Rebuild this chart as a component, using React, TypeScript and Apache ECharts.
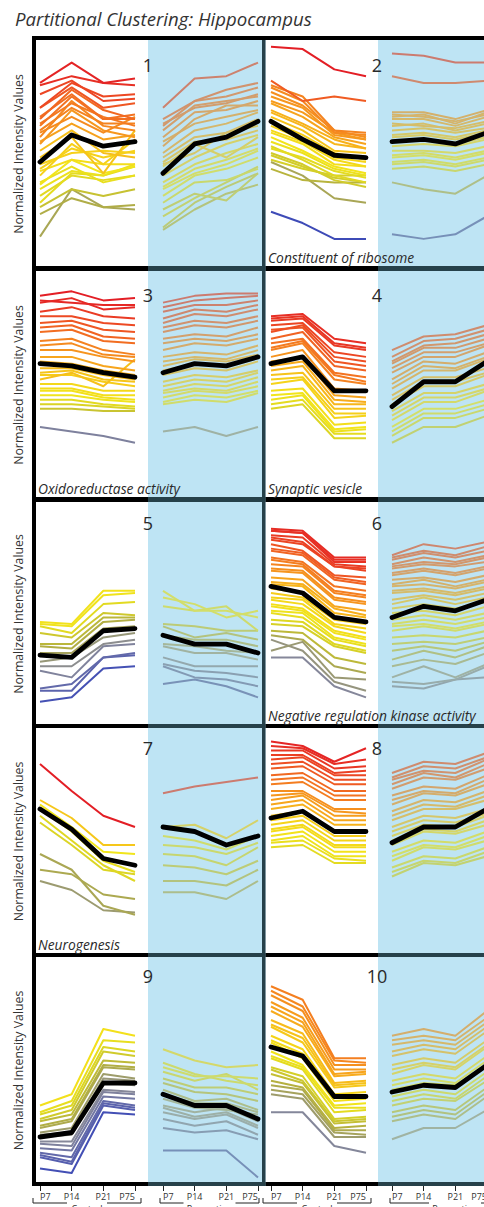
import React, { useEffect, useRef } from "react";
import * as echarts from "echarts";

// ---------------- DATA ----------------
const TITLE = "Partitional Clustering: Hippocampus";
const Y_LABEL = "Normalized Intensity Values";
const TIMEPOINTS = ["P7", "P14", "P21", "P75"];
const GROUPS = ["Control", "Paroxetine"];
const CLUSTER_IDS = ["1", "2", "3", "4", "5", "6", "7", "8", "9", "10"];
const ANNOTATIONS = [
  "",
  "Constituent of ribosome",
  "Oxidoreductase activity",
  "Synaptic vesicle",
  "",
  "Negative regulation kinase activity",
  "Neurogenesis",
  "",
  "",
  "",
];

// Each row: values at P7, P14, P21, P75 (normalized, 0..100 of panel height)
const C1_CONTROL = [
  [81, 90, 81, 83], [80, 84, 81, 80], [76, 82, 73, 74], [70, 81, 75, 76], [70, 79, 70, 72],
  [65, 78, 69, 65], [66, 76, 65, 65], [62, 75, 65, 67], [63, 72, 66, 62], [60, 70, 63, 63],
  [57, 73, 62, 60], [59, 66, 59, 66], [54, 69, 60, 57], [55, 63, 56, 58], [51, 60, 50, 48],
  [48, 57, 41, 60], [45, 50, 51, 50], [43, 52, 48, 51], [40, 54, 45, 56], [42, 47, 45, 45],
  [37, 44, 37, 40], [36, 47, 41, 44], [34, 42, 40, 45], [31, 40, 38, 40], [28, 41, 40, 44],
  [26, 34, 31, 34], [23, 30, 26, 27], [13, 34, 26, 25],
];
const C1_PAROX = [
  [70, 83, 84, 90], [65, 73, 78, 81], [63, 70, 72, 76], [62, 73, 75, 79], [60, 71, 73, 75],
  [57, 68, 69, 73], [55, 63, 66, 69], [53, 65, 71, 71], [50, 60, 63, 68], [48, 57, 59, 65],
  [46, 55, 56, 60], [45, 50, 59, 62], [44, 54, 48, 57], [40, 48, 54, 58], [37, 45, 50, 54],
  [35, 43, 47, 52], [34, 41, 45, 51], [31, 40, 43, 48], [28, 37, 38, 43], [25, 32, 29, 41],
  [22, 30, 37, 44], [17, 28, 35, 41], [16, 25, 32, 36],
];
const C1_MEAN = [46, 58, 53, 55, 41, 54, 57, 64];

const C2_CONTROL = [
  [97, 96, 87, 84], [82, 73, 75, 73], [80, 75, 60, 59], [79, 73, 59, 58], [77, 71, 60, 57],
  [75, 70, 58, 56], [73, 68, 59, 56], [72, 66, 57, 54], [69, 63, 56, 52], [68, 62, 54, 52],
  [66, 60, 51, 50], [64, 58, 50, 47], [62, 56, 48, 46], [60, 55, 47, 44], [59, 54, 45, 44],
  [57, 51, 44, 41], [55, 50, 43, 40], [53, 47, 40, 37], [52, 48, 42, 39], [50, 45, 38, 35],
  [49, 44, 39, 37], [47, 43, 40, 40], [46, 40, 30, 28], [43, 38, 37, 37], [24, 19, 12, 12],
];
const C2_PAROX = [
  [94, 93, 90, 90], [84, 81, 81, 82], [68, 68, 65, 69], [67, 66, 64, 67], [66, 67, 63, 68],
  [65, 65, 62, 66], [63, 62, 61, 64], [62, 63, 60, 63], [60, 61, 59, 61], [58, 59, 57, 60],
  [57, 58, 56, 59], [55, 56, 54, 57], [53, 54, 53, 56], [51, 51, 50, 53], [49, 50, 48, 51],
  [48, 49, 47, 50], [46, 47, 45, 48], [45, 46, 44, 47], [43, 44, 42, 45], [37, 34, 32, 40],
  [14, 12, 14, 22],
];
const C2_MEAN = [64, 56, 49, 48, 55, 56, 54, 59];

const C3_CONTROL = [
  [89, 91, 87, 88], [87, 86, 85, 85], [86, 88, 83, 84], [82, 84, 80, 79], [80, 80, 77, 76],
  [77, 78, 74, 73], [75, 76, 71, 70], [73, 74, 69, 68], [69, 70, 65, 63], [67, 68, 63, 62],
  [65, 65, 62, 60], [62, 62, 58, 56], [60, 59, 56, 54], [57, 57, 54, 52], [55, 56, 52, 51],
  [54, 54, 51, 49], [52, 55, 49, 61], [50, 50, 47, 47], [48, 48, 45, 45], [47, 47, 44, 43],
  [45, 45, 43, 42], [43, 43, 41, 40], [41, 41, 40, 39], [39, 39, 38, 38], [31, 29, 27, 24],
];
const C3_PAROX = [
  [86, 89, 90, 90], [84, 87, 88, 89], [82, 85, 85, 87], [79, 83, 82, 85], [77, 81, 80, 83],
  [75, 78, 77, 80], [73, 76, 75, 78], [70, 72, 71, 75], [68, 70, 69, 72], [65, 68, 67, 70],
  [62, 64, 63, 67], [60, 62, 61, 65], [58, 61, 60, 63], [56, 59, 58, 62], [54, 57, 56, 60],
  [51, 54, 53, 56], [49, 52, 51, 55], [47, 50, 49, 53], [46, 48, 47, 51], [44, 47, 46, 49],
  [42, 45, 44, 47], [41, 43, 42, 46], [29, 31, 27, 31],
];
const C3_MEAN = [59, 58, 55, 53, 55, 59, 58, 62];

const C4_CONTROL = [
  [80, 81, 70, 68], [79, 80, 68, 66], [78, 79, 67, 65], [76, 77, 64, 62], [74, 75, 60, 58],
  [73, 76, 62, 60], [70, 73, 58, 56], [68, 70, 55, 53], [66, 69, 54, 51], [65, 68, 52, 50],
  [62, 65, 48, 47], [60, 62, 45, 44], [58, 60, 43, 42], [56, 58, 41, 41], [54, 55, 39, 39],
  [52, 53, 37, 37], [50, 52, 35, 36], [47, 48, 32, 33], [45, 46, 30, 31], [43, 45, 29, 30],
  [41, 43, 28, 28], [39, 41, 26, 26],
];
const C4_PAROX = [
  [65, 71, 72, 76], [62, 69, 70, 74], [60, 67, 68, 72], [59, 66, 66, 70], [57, 64, 64, 68],
  [55, 62, 62, 67], [52, 60, 59, 64], [50, 58, 57, 62], [48, 56, 56, 61], [45, 53, 53, 57],
  [43, 51, 51, 55], [41, 49, 49, 54], [38, 46, 46, 50], [36, 44, 44, 48], [34, 42, 42, 47],
  [31, 39, 39, 43], [29, 37, 37, 41], [27, 35, 35, 39], [24, 31, 31, 36],
];
const C4_MEAN = [59, 62, 47, 47, 40, 51, 51, 60];

const C5_CONTROL = [
  [46, 45, 60, 60], [45, 44, 58, 59], [44, 41, 54, 55], [41, 39, 50, 49],
  [36, 36, 48, 48], [35, 34, 46, 47], [32, 32, 43, 44], [28, 30, 39, 41],
  [26, 26, 36, 38], [24, 21, 35, 36], [16, 18, 30, 32], [15, 15, 30, 31],
  [10, 12, 25, 26],
];
const C5_PAROX = [
  [60, 51, 51, 48], [57, 54, 48, 51], [53, 51, 53, 42], [45, 44, 42, 42],
  [44, 39, 41, 38], [40, 38, 38, 35], [36, 35, 33, 32], [35, 32, 32, 29],
  [30, 26, 26, 26], [27, 24, 23, 21], [26, 21, 20, 17], [18, 20, 17, 12],
];
const C5_MEAN = [31, 30, 42, 43, 40, 36, 36, 32];

const C6_CONTROL = [
  [88, 87, 75, 75], [87, 86, 74, 74], [87, 86, 73, 73], [85, 84, 72, 71], [84, 82, 71, 70],
  [83, 81, 71, 69], [81, 78, 67, 66], [79, 77, 66, 64], [78, 76, 65, 63], [75, 73, 62, 60],
  [74, 72, 60, 58], [72, 71, 59, 57], [70, 69, 57, 55], [69, 68, 56, 54], [66, 65, 53, 51],
  [64, 63, 52, 49], [63, 62, 50, 48], [61, 59, 48, 46], [59, 57, 47, 45], [57, 56, 45, 43],
  [56, 54, 44, 41], [54, 52, 42, 39], [53, 51, 41, 38], [51, 50, 39, 36], [50, 48, 38, 35],
  [47, 46, 36, 33], [45, 44, 35, 32], [42, 41, 30, 27], [40, 38, 26, 23], [38, 33, 19, 15],
  [33, 37, 21, 20], [30, 30, 17, 12],
];
const C6_PAROX = [
  [76, 81, 79, 82], [75, 78, 76, 80], [74, 77, 75, 78], [72, 75, 73, 76], [71, 73, 72, 75],
  [70, 72, 71, 73], [68, 70, 68, 71], [67, 69, 67, 70], [65, 66, 64, 67], [63, 65, 62, 65],
  [62, 63, 61, 64], [60, 61, 59, 62], [59, 60, 58, 61], [56, 58, 56, 59], [54, 57, 54, 57],
  [52, 54, 52, 55], [50, 51, 49, 53], [47, 49, 47, 50], [45, 47, 45, 48], [44, 45, 43, 46],
  [42, 44, 42, 45], [39, 40, 39, 42], [36, 37, 36, 39], [33, 35, 33, 37], [29, 33, 30, 35],
  [26, 29, 27, 32], [21, 26, 21, 27], [19, 18, 20, 26], [17, 16, 20, 21],
];
const C6_MEAN = [62, 59, 48, 46, 48, 53, 51, 56];

const C7_CONTROL = [
  [84, 72, 61, 56], [68, 60, 48, 48], [66, 56, 45, 44], [64, 54, 41, 36],
  [61, 50, 39, 32], [58, 48, 37, 35], [44, 37, 21, 17], [37, 35, 26, 24],
  [32, 28, 19, 18],
];
const C7_PAROX = [
  [71, 74, 76, 78], [56, 57, 51, 59], [52, 50, 46, 52], [48, 47, 44, 49],
  [44, 43, 39, 47], [39, 38, 35, 41], [32, 32, 30, 37], [27, 27, 24, 32],
];
const C7_MEAN = [64, 55, 42, 39, 56, 54, 48, 52];

const C8_CONTROL = [
  [94, 92, 85, 91], [92, 91, 84, 86], [90, 90, 82, 83], [88, 88, 80, 81], [86, 87, 79, 79],
  [84, 85, 77, 77], [82, 83, 75, 75], [79, 80, 72, 72], [77, 78, 70, 70], [75, 76, 68, 68],
  [72, 72, 64, 64], [70, 71, 63, 62], [68, 70, 61, 61], [66, 68, 59, 59], [64, 66, 57, 57],
  [61, 63, 54, 54], [59, 61, 52, 52], [57, 59, 50, 50], [55, 57, 48, 48], [54, 56, 47, 47],
  [52, 54, 45, 45], [50, 52, 43, 43], [49, 50, 42, 41], [47, 48, 40, 40],
];
const C8_PAROX = [
  [80, 85, 84, 89], [78, 83, 82, 87], [77, 81, 80, 86], [75, 80, 78, 84], [73, 78, 77, 82],
  [70, 74, 73, 79], [68, 72, 71, 77], [66, 71, 70, 75], [63, 68, 67, 72], [61, 66, 65, 70],
  [59, 64, 64, 68], [56, 61, 60, 64], [54, 59, 58, 62], [52, 57, 56, 61], [50, 55, 54, 59],
  [48, 54, 53, 57], [45, 50, 49, 54], [43, 48, 47, 52], [41, 47, 46, 50], [38, 43, 42, 47],
  [36, 41, 40, 45], [34, 40, 39, 43],
];
const C8_MEAN = [60, 63, 54, 54, 49, 56, 56, 64];

const C9_CONTROL = [
  [34, 39, 68, 65], [31, 36, 63, 62], [30, 34, 60, 58], [28, 32, 58, 56], [27, 30, 54, 53],
  [25, 28, 52, 51], [24, 27, 51, 50], [22, 24, 48, 46], [21, 22, 46, 45], [20, 21, 44, 43],
  [18, 18, 41, 40], [17, 16, 40, 39], [15, 14, 38, 37], [13, 11, 36, 34], [12, 9, 35, 33],
  [11, 8, 34, 32], [6, 4, 31, 30],
];
const C9_PAROX = [
  [59, 54, 51, 52], [53, 48, 45, 43], [51, 47, 47, 46], [49, 45, 48, 41], [46, 42, 42, 39],
  [44, 40, 39, 36], [41, 36, 37, 32], [39, 35, 35, 31], [37, 33, 32, 30], [34, 31, 33, 27],
  [33, 29, 31, 25], [31, 28, 30, 24], [28, 25, 27, 21], [24, 22, 23, 19], [14, 14, 14, 2],
];
const C9_MEAN = [20, 22, 44, 44, 39, 34, 34, 28];

const C10_CONTROL = [
  [87, 81, 55, 55], [85, 78, 54, 53], [83, 76, 52, 52], [80, 73, 50, 50], [78, 71, 48, 49],
  [76, 69, 47, 48], [72, 66, 44, 45], [70, 64, 43, 44], [69, 62, 42, 43], [65, 59, 39, 40],
  [63, 57, 38, 38], [62, 55, 36, 37], [58, 52, 34, 35], [56, 51, 33, 33], [55, 50, 31, 32],
  [51, 47, 28, 29], [50, 45, 27, 28], [48, 44, 26, 27], [45, 42, 24, 25], [43, 41, 23, 23],
  [41, 39, 22, 21], [39, 37, 20, 20], [31, 31, 16, 13],
];
const C10_PAROX = [
  [65, 68, 65, 76], [63, 65, 63, 73], [61, 63, 61, 71], [58, 61, 59, 69], [56, 59, 57, 67],
  [52, 55, 53, 63], [50, 53, 51, 61], [48, 52, 50, 60], [45, 48, 46, 56], [43, 46, 44, 54],
  [41, 44, 43, 52], [38, 41, 39, 49], [36, 39, 37, 47], [34, 37, 36, 45], [31, 34, 32, 42],
  [29, 32, 30, 40], [27, 30, 28, 38], [19, 24, 24, 32],
];
const C10_MEAN = [60, 56, 38, 38, 40, 43, 42, 52];

// ---------------- STYLE / LAYOUT ----------------
const FONT = "'Open Sans', 'Noto Sans', sans-serif";
const BLUE = "#bee4f4";
const MUTE = "#b4d8b8";
const TEAL = "#26414a";
const ROW_TOP = [40, 271, 502, 728, 957];
const ROW_BOTTOM = [266, 497, 724, 953, 1182];
const CONTROL_X = [40, 271];
const PAROX_X = [163, 392];
const HALF_W = 95;
const BLUE_X = [
  [148, 265.5],
  [378, 484],
];
const NUMBER_X = [148, 377];
const NUMBER_DY = [25, 24, 21, 20, 19];
// colour scale per cluster: value mapped to blue end, to yellow, and to red end
const COLOR_SCALE = [
  [-5, 42, 85], [16, 48, 88], [19, 44, 88], [0, 38, 78], [16, 52, 90],
  [8, 45, 84], [-10, 53, 68], [0, 48, 92], [16, 50, 90], [9, 45, 91],
];
const PALETTE: [number, string][] = [
  [0.0, "#3a48b8"],
  [0.1, "#5c64ad"],
  [0.2, "#85879a"],
  [0.28, "#9b9a72"],
  [0.36, "#b4b040"],
  [0.44, "#d9d325"],
  [0.52, "#f2e51b"],
  [0.6, "#f6cf19"],
  [0.68, "#f7a91c"],
  [0.78, "#f47d20"],
  [0.88, "#ee4e23"],
  [1.0, "#e31e25"],
];

const hexToRgb = (h: string) => [
  parseInt(h.slice(1, 3), 16),
  parseInt(h.slice(3, 5), 16),
  parseInt(h.slice(5, 7), 16),
];
const rgbStr = (c: number[]) =>
  `rgb(${Math.round(c[0])},${Math.round(c[1])},${Math.round(c[2])})`;
const paletteAt = (t: number): number[] => {
  const p = Math.max(0, Math.min(1, t));
  for (let i = 1; i < PALETTE.length; i++) {
    if (p <= PALETTE[i][0]) {
      const [p0, c0] = PALETTE[i - 1];
      const [p1, c1] = PALETTE[i];
      const f = (p - p0) / (p1 - p0);
      const a = hexToRgb(c0);
      const b = hexToRgb(c1);
      return [0, 1, 2].map((k) => a[k] + (b[k] - a[k]) * f);
    }
  }
  return hexToRgb(PALETTE[PALETTE.length - 1][1]);
};
const scaleColor = (v: number, [lo, mid, hi]: number[]) =>
  paletteAt(v <= mid ? ((v - lo) / (mid - lo)) * 0.52 : 0.52 + ((v - mid) / (hi - mid)) * 0.48);
const blend = (c: number[], target: string, a: number) => {
  const t = hexToRgb(target);
  return [0, 1, 2].map((k) => c[k] * (1 - a) + t[k] * a);
};
const avg = (v: number[]) => v.reduce((s, x) => s + x, 0) / v.length;

const CLUSTERS = [
  { control: C1_CONTROL, parox: C1_PAROX, mean: C1_MEAN },
  { control: C2_CONTROL, parox: C2_PAROX, mean: C2_MEAN },
  { control: C3_CONTROL, parox: C3_PAROX, mean: C3_MEAN },
  { control: C4_CONTROL, parox: C4_PAROX, mean: C4_MEAN },
  { control: C5_CONTROL, parox: C5_PAROX, mean: C5_MEAN },
  { control: C6_CONTROL, parox: C6_PAROX, mean: C6_MEAN },
  { control: C7_CONTROL, parox: C7_PAROX, mean: C7_MEAN },
  { control: C8_CONTROL, parox: C8_PAROX, mean: C8_MEAN },
  { control: C9_CONTROL, parox: C9_PAROX, mean: C9_MEAN },
  { control: C10_CONTROL, parox: C10_PAROX, mean: C10_MEAN },
];

const textStyle = (text: string, size: number, align: string, extra: any = {}) => ({
  text,
  fontSize: size,
  fontFamily: FONT,
  fill: "#2a2a2a",
  textAlign: align,
  textVerticalAlign: "middle",
  align,
  verticalAlign: "middle",
  ...extra,
});

function buildOption() {
  const grid: any[] = [];
  const xAxis: any[] = [];
  const yAxis: any[] = [];
  const series: any[] = [];
  const graphic: any[] = [];

  CLUSTERS.forEach((cl, k) => {
    const row = Math.floor(k / 2);
    const col = k % 2;
    const top = ROW_TOP[row];
    const height = ROW_BOTTOM[row] - top;
    const isBottom = row === ROW_TOP.length - 1;
    [CONTROL_X[col], PAROX_X[col]].forEach((left, h) => {
      const gi = k * 2 + h;
      grid.push({ left, top, width: HALF_W, height, containLabel: false, outerBoundsMode: "none" });
      xAxis.push({
        type: "category",
        gridIndex: gi,
        data: TIMEPOINTS,
        boundaryGap: false,
        show: isBottom,
        axisLine: { show: false },
        axisTick: { show: true, length: 9, lineStyle: { color: "#222", width: 1 } },
        axisLabel: {
          interval: 0,
          fontSize: 9,
          color: "#333",
          margin: 10,
          fontFamily: FONT,
          alignMinLabel: "left",
          alignMaxLabel: "right",
        },
        splitLine: { show: false },
      });
      yAxis.push({ type: "value", gridIndex: gi, min: 0, max: 100, show: false, splitLine: { show: false } });
    });

    const colorOf = (vals: number[]) => scaleColor(avg(vals), COLOR_SCALE[k]);
    const addLines = (rows: number[][], gi: number, muted: boolean) => {
      [...rows]
        .sort((a, b) => avg(a) - avg(b))
        .forEach((vals) => {
          const c = colorOf(vals);
          series.push({
            type: "line",
            xAxisIndex: gi,
            yAxisIndex: gi,
            data: vals,
            symbol: "none",
            silent: true,
            z: 2,
            lineStyle: { color: rgbStr(muted ? blend(c, MUTE, 0.5) : c), width: 2, join: "round" },
          });
        });
    };
    addLines(cl.control, k * 2, false);
    addLines(cl.parox, k * 2 + 1, true);
    [cl.mean.slice(0, 4), cl.mean.slice(4)].forEach((vals, h) => {
      series.push({
        type: "line",
        xAxisIndex: k * 2 + h,
        yAxisIndex: k * 2 + h,
        data: vals,
        symbol: "none",
        silent: true,
        z: 5,
        lineStyle: { color: "#000", width: 4.8, join: "round", cap: "round" },
      });
    });

    // cluster number
    graphic.push({
      type: "text",
      x: NUMBER_X[col],
      y: top + NUMBER_DY[row],
      z: 20,
      silent: true,
      style: textStyle(CLUSTER_IDS[k], 18, "center"),
    });
    if (ANNOTATIONS[k]) {
      graphic.push({
        type: "text",
        x: col === 0 ? 38 : 268,
        y: ROW_BOTTOM[row] - 9,
        z: 20,
        silent: true,
        style: textStyle(ANNOTATIONS[k], 13.8, "left", { fontStyle: "italic" }),
      });
    }
  });

  // blue paroxetine backgrounds
  BLUE_X.forEach(([x0, x1]) => {
    graphic.push({
      type: "rect",
      z: 0,
      silent: true,
      shape: { x: x0, y: 40, width: x1 - x0, height: 1186 - 40 },
      style: { fill: BLUE },
    });
  });

  // frame
  const bar = (x: number, y: number, w: number, h: number, fill: string) =>
    graphic.push({ type: "rect", z: 10, silent: true, shape: { x, y, width: w, height: h }, style: { fill } });
  bar(32, 36, 470, 4, "#000");
  bar(32, 36, 4, 1150, "#000");
  ROW_BOTTOM.forEach((b, i) => {
    const next = i + 1 < ROW_TOP.length ? ROW_TOP[i + 1] : b + 4;
    const h = next - b;
    bar(32, b, 148 - 32, h, "#000");
    bar(148, b, 265.5 - 148, h, TEAL);
    bar(265.5, b, 378 - 265.5, h, "#000");
    bar(378, b, 500 - 378, h, TEAL);
  });
  bar(262, 40, 3.5, 1146, TEAL);

  // y labels
  ROW_TOP.forEach((t, i) => {
    graphic.push({
      type: "text",
      x: 18,
      y: (t + ROW_BOTTOM[i]) / 2 + 1,
      rotation: Math.PI / 2,
      z: 20,
      silent: true,
      style: textStyle(Y_LABEL, 12.3, "center", { fill: "#333" }),
    });
  });

  // title
  graphic.push({
    type: "text",
    x: 15,
    y: 18,
    z: 20,
    silent: true,
    style: textStyle(TITLE, 18.6, "left", { fontStyle: "italic", fill: "#333" }),
  });

  // group brackets
  const BRACKETS = [
    [33, 141, 0],
    [160, 259, 1],
    [263, 371, 0],
    [390, 520, 1],
  ];
  BRACKETS.forEach(([x0, x1, gIdx]) => {
    const label = GROUPS[gIdx];
    const cx = (x0 + x1) / 2;
    const gap = gIdx === 0 ? 20 : 26;
    const y = 1203;
    graphic.push({
      type: "polyline",
      z: 20,
      silent: true,
      shape: { points: [[x0, y - 5], [x0, y], [cx - gap, y]] },
      style: { stroke: "#222", lineWidth: 1, fill: null },
    });
    graphic.push({
      type: "polyline",
      z: 20,
      silent: true,
      shape: { points: [[cx + gap, y], [x1, y], [x1, y - 5]] },
      style: { stroke: "#222", lineWidth: 1, fill: null },
    });
    graphic.push({
      type: "text",
      x: cx,
      y: 1208,
      z: 20,
      silent: true,
      style: textStyle(label, 9, "center", { fill: "#333" }),
    });
  });

  return {
    animation: false,
    backgroundColor: "#fff",
    grid,
    xAxis,
    yAxis,
    series,
    graphic: { elements: graphic },
  };
}

export default function App() {
  const ref = useRef<HTMLDivElement | null>(null);
  useEffect(() => {
    document.body.style.margin = "0";
    if (!ref.current) return;
    const chart = echarts.init(ref.current, null, { renderer: "svg" });
    chart.setOption(buildOption() as any);
    return () => chart.dispose();
  }, []);
  return <div ref={ref} style={{ width: 484, height: 1207 }} />;
}
